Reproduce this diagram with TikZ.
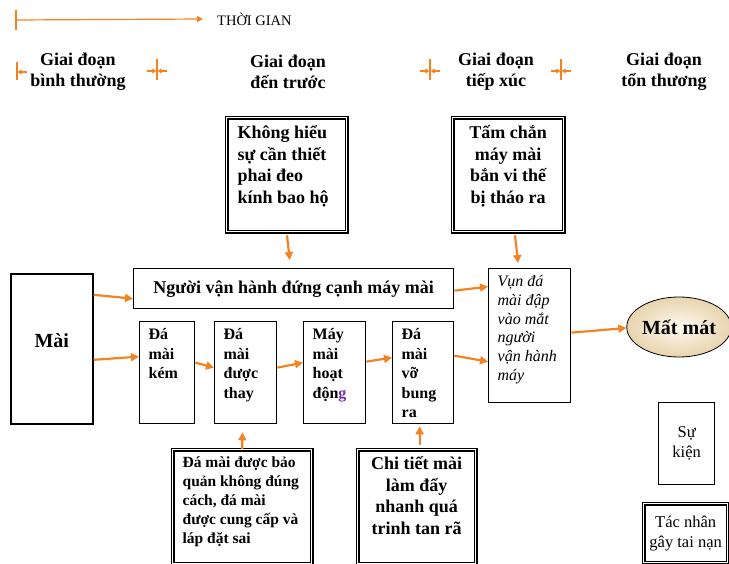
\documentclass[tikz,border=0pt]{standalone}
\usepackage{fontspec}
\setmainfont{Liberation Serif}
\usetikzlibrary{arrows.meta,positioning,shapes.geometric}
\definecolor{arrorange}{RGB}{245,130,32}
\definecolor{gpurple}{RGB}{112,48,160}
\definecolor{lossin}{RGB}{253,249,241}
\definecolor{lossout}{RGB}{232,212,174}

\begin{document}
\begin{tikzpicture}[x=1pt, y=-1pt,
  arr/.style={draw=arrorange, line width=2.2pt, -{Triangle[length=8pt,width=8pt]}},
  tline/.style={draw=arrorange, line width=1.2pt},
  tick/.style={tline, -{Triangle[length=4pt,width=5pt]}},
  evbox/.style={draw, line width=1.3pt, anchor=north west, inner xsep=9pt, inner ysep=7pt},
  dblbox/.style={evbox, double, double distance=1.2pt},
  bigtxt/.style={font=\fontsize{18}{21.5}\selectfont\bfseries},
  midtxt/.style={font=\fontsize{16}{19.5}\selectfont\bfseries},
  smalltxt/.style={font=\fontsize{16.5}{20}\selectfont}]

\useasboundingbox (0,0) rectangle (729,564);

% time axis
\coordinate (t0) at (16,20);
\node[anchor=west, inner sep=0pt, font=\fontsize{14.5}{16}\selectfont] (tg) at (217,19) {THỜI GIAN};
\draw[tline] ([yshift=10pt]t0) -- ([yshift=-10pt]t0);
\draw[tline, -{Triangle[length=6pt,width=6pt]}] (t0) -- ([xshift=-14pt]tg.west);

% phases
\node[bigtxt, align=center, font=\fontsize{18}{21}\selectfont\bfseries] (ph1) at (78,72) {Giai đoạn\\bình thường};
\node[bigtxt, align=center, font=\fontsize{18}{21}\selectfont\bfseries] (ph2) at (288,72) {Giai đoạn\\đến trước};
\node[bigtxt, align=center, font=\fontsize{18}{21}\selectfont\bfseries] (ph3) at (496,72) {Giai đoạn\\tiếp xúc};
\node[bigtxt, align=center, font=\fontsize{18}{21}\selectfont\bfseries] (ph4) at (664,72) {Giai đoạn\\tổn thương};
\draw[tline] (17,62) -- (17,80);
\draw[tick] (27,72) -- (17.6,72);
\foreach \x in {157,430,561} {
  \draw[tline] (\x,59) -- (\x,80);
  \draw[tick] (\x-10,71) -- (\x-0.6,71);
  \draw[tick] (\x+10,71) -- (\x+0.6,71);
}

% causes
\node[dblbox, inner xsep=11pt, inner ysep=8pt, bigtxt] (kh) at (226,117)
  {\parbox[t][98pt][t]{98pt}{\raggedright Không hiểu\\sự cần thiết\\phai đeo\\kính bao hộ}};
\node[dblbox, inner ysep=8pt, bigtxt] (tc) at (452,117)
  {\parbox[t][98pt][t]{93pt}{\centering Tấm chắn\\máy mài\\bắn vi thế\\bị tháo ra}};
\node[dblbox, inner xsep=10pt, font=\fontsize{15.5}{19}\selectfont\bfseries] (bq) at (172,449)
  {\parbox[t][100pt][t]{119pt}{\raggedright Đá mài được bảo\\quản không đúng\\cách, đá mài\\được cung cấp và\\láp đặt sai}};
\node[dblbox, bigtxt] (ct) at (357,449)
  {\parbox[t][100pt][t]{100pt}{\centering Chi tiết mài\\làm đẩy\\nhanh quá\\trinh tan rã}};

% events
\node[evbox, inner sep=0pt, line width=1.6pt, font=\fontsize{20}{24}\selectfont\bfseries] (mai) at (10,273)
  {\parbox[t][150pt][c]{82pt}{\centering Mài\par\vspace{16pt}}};
\node[evbox, inner sep=0pt, minimum width=320pt, minimum height=40pt, bigtxt] (nguoi) at (133,268)
  {Người vận hành đứng cạnh máy mài};
\node[evbox, midtxt] (kem) at (139,321)
  {\parbox[t][88pt][t]{37pt}{\raggedright Đá\\mài\\kém}};
\node[evbox, midtxt] (thay) at (214,321)
  {\parbox[t][88pt][t]{44pt}{\raggedright Đá\\mài\\được\\thay}};
\node[evbox, midtxt] (may) at (303,321)
  {\parbox[t][88pt][t]{44pt}{\raggedright Máy\\mài\\hoạt\\độn\textcolor{gpurple}{g}}};
\node[evbox, midtxt] (vo) at (392,321)
  {\parbox[t][88pt][t]{43pt}{\raggedright Đá\\mài\\vỡ\\bung\\ra}};
\node[evbox, font=\fontsize{16}{18.7}\selectfont\itshape] (vun) at (488,268)
  {\parbox[t][120pt][t]{64pt}{\raggedright Vụn đá\\mài đập\\vào mắt\\người\\vận hành\\máy}};
\node[ellipse, draw, line width=0.8pt, minimum width=96pt, minimum height=60pt, inner sep=0pt,
  inner color=lossin, outer color=lossout, font=\fontsize{20}{24}\selectfont\bfseries] (mat) at (679,327) {Mất mát};

% legend
\node[evbox, inner sep=0pt, minimum width=56pt, minimum height=82pt, align=center, smalltxt] (sk) at (658,402) {Sự\\kiện};
\node[dblbox, inner sep=0pt, minimum width=84pt, minimum height=59pt, align=center, smalltxt] (tn) at (643,503) {Tác nhân\\gây tai nạn};

% arrows
\draw[arr] ([yshift=54pt]mai.east) -- ([yshift=-10pt]nguoi.west);
\draw[arr] ([yshift=-11pt]mai.east) -- ([yshift=16pt]kem.west);
\draw[arr] ([yshift=10pt]kem.east) -- ([yshift=5pt]thay.west);
\draw[arr] ([yshift=5pt]thay.east) -- ([yshift=10pt]may.west);
\draw[arr] ([yshift=11pt]may.east) -- ([yshift=15pt]vo.west);
\draw[arr] ([yshift=17pt]vo.east) -- ([yshift=-26pt]vun.west);
\draw[arr] ([yshift=-2pt]nguoi.east) -- ([yshift=49pt]vun.west);
\draw[arr] ([yshift=3pt]vun.east) -- ([yshift=-1pt]mat.west);
\draw[arr, shorten <=3pt, shorten >=8pt] (kh.south) -- ([xshift=-3pt]nguoi.north);
\draw[arr, shorten <=3pt, shorten >=5pt] ([xshift=6.5pt]tc.south) -- ([xshift=-11pt]vun.north);
\draw[arr, shorten >=8pt] (bq.north) -- ([xshift=-3pt]thay.south);
\draw[arr, shorten <=4pt, shorten >=2pt] ([xshift=3pt]ct.north) -- ([xshift=-3.5pt]vo.south);

\end{tikzpicture}
\end{document}
